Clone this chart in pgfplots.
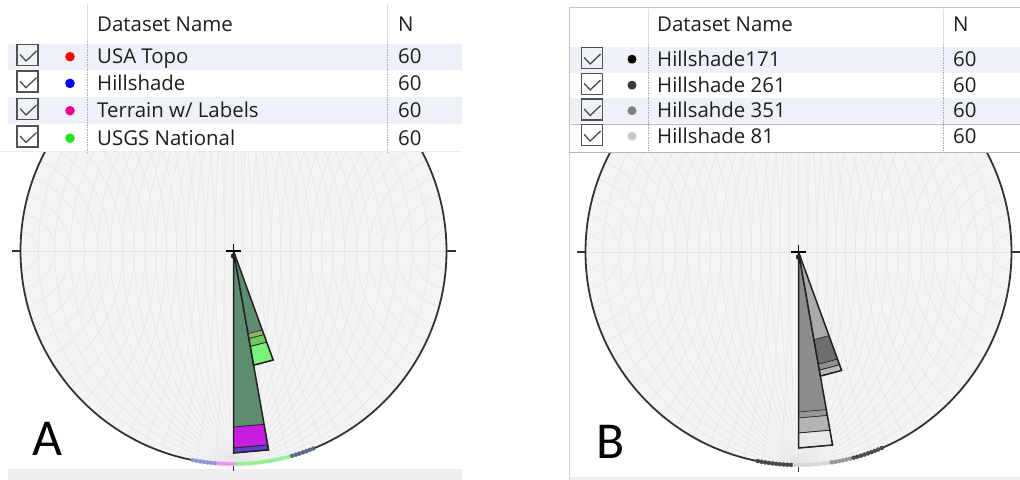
\documentclass[border=0pt]{standalone}
\usepackage{fontspec}
\setmainfont{Open Sans}
\newfontfamily\lblfont{Carlito}
\usepackage{pgfplots}
\pgfplotsset{compat=1.18}
\definecolor{rowshade}{RGB}{238,242,248}
\definecolor{netbg}{RGB}{244,244,244}
\definecolor{netline}{RGB}{229,229,229}
\definecolor{stripgray}{RGB}{238,238,238}
\definecolor{txt}{RGB}{30,30,30}
\definecolor{wline}{RGB}{35,35,35}
\definecolor{amain}{RGB}{93,140,110}
\definecolor{amag}{RGB}{200,30,224}
\definecolor{ablue}{RGB}{92,64,200}
\definecolor{aolive}{RGB}{140,178,110}
\definecolor{agreen2}{RGB}{110,200,90}
\definecolor{agreen1}{RGB}{124,240,124}
\definecolor{bmain}{RGB}{140,140,140}
\definecolor{bb1}{RGB}{150,150,150}
\definecolor{bb2}{RGB}{180,180,180}
\definecolor{bb3}{RGB}{233,233,233}
\definecolor{bsec}{RGB}{170,170,170}
\definecolor{bs1}{RGB}{110,110,110}
\definecolor{bs2}{RGB}{142,142,142}
\definecolor{bs3}{RGB}{185,185,185}
\definecolor{ugreen}{RGB}{30,230,30}
\definecolor{pbluegray}{RGB}{150,150,215}
\definecolor{pmag}{RGB}{235,150,240}
\definecolor{pgreen}{RGB}{150,240,150}
\definecolor{pslate}{RGB}{90,110,130}

\def\R{213}
\newcommand\net[2]{%
  \begin{scope}
    \clip (#1,#2) circle[radius=\R bp];
    \fill[netbg] (#1,#2) circle[radius=\R bp];
    \foreach \d in {5,10,...,85}{%
      \pgfmathsetmacro\cc{\R*tan(\d)}%
      \pgfmathsetmacro\rr{\R/cos(\d)}%
      \draw[netline, line width=0.5bp] ({#1-\cc},#2) circle[radius=\rr bp] ({#1+\cc},#2) circle[radius=\rr bp];
      \draw[netline, line width=0.5bp] ({#1+\rr},#2) circle[radius=\cc bp] ({#1-\rr},#2) circle[radius=\cc bp];
    }
    \draw[netline, line width=0.5bp] (#1,#2-\R) -- (#1,#2+\R) (#1-\R,#2) -- (#1+\R,#2);
  \end{scope}
  \draw[black!80, line width=1.8bp] (#1,#2) circle[radius=\R bp];
  \draw[black!80, line width=1.4bp] (#1-\R-9,#2) -- (#1-\R,#2) (#1+\R,#2) -- (#1+\R+9,#2) (#1,#2+\R) -- (#1,#2+\R+7);
}
\newcommand\chk[2]{%
  \draw[black!68, line width=1.4bp] (#1-10.5,#2-10.5) rectangle (#1+10.5,#2+10.5);
  \draw[black!70, line width=1.3bp] (#1-7.5,#2-0.5) -- (#1-1.5,#2+6) -- (#1+9,#2-4);
}
\tikzset{tt/.style={anchor=base west, inner sep=0pt, text=txt, font=\fontsize{20.5}{24}\selectfont}}
\pgfplotsset{pp/.style={data cs=polar, only marks, mark=*, mark size=2bp}}

\begin{document}
\begin{tikzpicture}[x=1bp,y=-1bp]
\fill[white] (0,0) rectangle (1020,480);
\fill[stripgray] (8,469) rectangle (462,480);
\fill[stripgray] (569,477) rectangle (1020,480);
\draw[gray!35, line width=1bp] (569,8) -- (569,480);
\net{233.5}{251}
\net{798.5}{252}
\node[font=\lblfont\fontsize{52}{52}\selectfont, anchor=base, inner sep=0pt] at (47,455) {A};
\node[font=\lblfont\fontsize{52}{52}\selectfont, anchor=base, inner sep=0pt] at (610.5,458) {B};

% ---------------- Panel A ----------------
\begin{axis}[at={(233.5bp,-251bp)}, anchor=center, x=1bp, y=1bp,
  xmin=-240, xmax=240, ymin=-240, ymax=240, hide axis, clip=false]
% perimeter data points
\addplot[pp, color=pbluegray] coordinates {(-101,213) (-100,213) (-99,213) (-98,213) (-97,213) (-96,213) (-95,213)};
\addplot[pp, color=pmag] coordinates {(-94,213) (-93,213) (-92,213) (-91,213) (-90,213)};
\addplot[pp, color=pgreen] coordinates {(-89,213) (-88,213) (-87,213) (-86,213) (-85,213) (-84,213) (-83,213) (-82,213) (-81,213) (-80,213) (-79,213) (-78,213) (-77,213) (-76,213) (-75,213)};
\addplot[pp, color=pslate] coordinates {(-74,213) (-73,213) (-72,213) (-71,213) (-70,213) (-69,213) (-68,213)};
% bin 170-180
\addplot[data cs=polar, fill=amain, draw=none] coordinates {(-90,0) (-90,176) (-80,176) (-80,0)};
\addplot[data cs=polar, fill=amag, draw=wline, line width=0.8bp] coordinates {(-90,176) (-90,197) (-80,197) (-80,176) (-90,176)};
\addplot[data cs=polar, fill=ablue, draw=wline, line width=0.8bp] coordinates {(-90,197) (-90,202) (-80,202) (-80,197) (-90,197)};
\addplot[data cs=polar, draw=wline, line width=1.5bp] coordinates {(-90,0) (-90,202) (-80,202) (-80,0)};
% bin 160-170
\addplot[data cs=polar, fill=amain, draw=none] coordinates {(-80,0) (-80,84) (-70,84) (-70,0)};
\addplot[data cs=polar, fill=aolive, draw=wline, line width=0.6bp] coordinates {(-80,84) (-80,89) (-70,89) (-70,84) (-80,84)};
\addplot[data cs=polar, fill=agreen2, draw=wline, line width=0.6bp] coordinates {(-80,89) (-80,97) (-70,97) (-70,89) (-80,89)};
\addplot[data cs=polar, fill=agreen1, draw=wline, line width=0.8bp] coordinates {(-80,97) (-80,116) (-70,116) (-70,97) (-80,97)};
\addplot[data cs=polar, draw=wline, line width=1.5bp] coordinates {(-80,0) (-80,116) (-70,116) (-70,0)};
% centre
\addplot[only marks, mark=+, mark size=7.5bp, mark options={line width=1.8bp, black}] coordinates {(0,0)};
\addplot[only marks, mark=*, mark size=2.5bp, mark options={black!85}] coordinates {(0,-5)};
\end{axis}

% ---------------- Panel B ----------------
\begin{axis}[at={(798.5bp,-252bp)}, anchor=center, x=1bp, y=1bp,
  xmin=-240, xmax=240, ymin=-240, ymax=240, hide axis, clip=false]
\addplot[pp, color=black!72] coordinates {(-101,213) (-100,213) (-99,213) (-98,213) (-97,213) (-96,213) (-95,213) (-94,213) (-93,213) (-92,213)};
\addplot[pp, color=black!15] coordinates {(-91,213) (-90,213) (-89,213) (-88,213) (-87,213) (-86,213) (-85,213) (-84,213) (-83,213) (-82,213)};
\addplot[pp, color=black!40] coordinates {(-81,213) (-80,213) (-79,213) (-78,213) (-77,213) (-76,213)};
\addplot[pp, color=black!70] coordinates {(-75,213) (-74,213) (-73,213) (-72,213) (-71,213) (-70,213) (-69,213) (-68,213) (-67,213)};
\addplot[data cs=polar, fill=bmain, draw=none] coordinates {(-90,0) (-90,160) (-80,160) (-80,0)};
\addplot[data cs=polar, fill=bb1, draw=wline, line width=0.6bp] coordinates {(-90,160) (-90,166) (-80,166) (-80,160) (-90,160)};
\addplot[data cs=polar, fill=bb2, draw=wline, line width=0.6bp] coordinates {(-90,166) (-90,181) (-80,181) (-80,166) (-90,166)};
\addplot[data cs=polar, fill=bb3, draw=wline, line width=0.8bp] coordinates {(-90,181) (-90,196) (-80,196) (-80,181) (-90,181)};
\addplot[data cs=polar, draw=wline, line width=1.5bp] coordinates {(-90,0) (-90,196) (-80,196) (-80,0)};
\addplot[data cs=polar, fill=bsec, draw=none] coordinates {(-80,0) (-80,89) (-70,89) (-70,0)};
\addplot[data cs=polar, fill=bs1, draw=wline, line width=0.6bp] coordinates {(-80,89) (-80,114) (-70,114) (-70,89) (-80,89)};
\addplot[data cs=polar, fill=bs2, draw=wline, line width=0.6bp] coordinates {(-80,114) (-80,120) (-70,120) (-70,114) (-80,114)};
\addplot[data cs=polar, fill=bs3, draw=wline, line width=0.8bp] coordinates {(-80,120) (-80,126) (-70,126) (-70,120) (-80,120)};
\addplot[data cs=polar, draw=wline, line width=1.5bp] coordinates {(-80,0) (-80,126) (-70,126) (-70,0)};
\addplot[only marks, mark=+, mark size=7.5bp, mark options={line width=1.8bp, black}] coordinates {(0,0)};
\addplot[only marks, mark=*, mark size=2.5bp, mark options={black!85}] coordinates {(0,-5)};
\end{axis}

% ---------------- Table A ----------------
\fill[white] (0,0) rectangle (462,152);
\fill[rowshade] (8,44) rectangle (462,70);
\fill[rowshade] (8,97) rectangle (462,124);
\draw[gray!15, line width=1bp] (0,152) -- (462,152);
\foreach \xx in {87,387}{
  \draw[gray!25, line width=0.8bp] (\xx,4) -- (\xx,42);
  \draw[gray!65, line width=1bp, dash pattern=on 1.2bp off 1.3bp] (\xx,42) -- (\xx,154);
}
\node[tt] at (97,31.7) {Dataset Name};
\node[tt] at (398,31.7) {N};
\foreach \yy/\cl/\nm in {64/red/{USA Topo}, 90.7/blue/{Hillshade}, 118/magenta/{Terrain w/ Labels}, 145.5/ugreen/{USGS National}}{
  \chk{27.5}{\yy-9}
  \fill[color=\cl] (70,\yy-7.3) circle[radius=4.8bp];
  \node[tt] at (97,\yy) {\nm};
  \node[tt] at (398,\yy) {60};
}

% ---------------- Table B ----------------
\fill[white] (569,8) rectangle (1020,152.5);
\fill[rowshade] (570,47) rectangle (1020,73);
\fill[rowshade] (570,98) rectangle (1020,123.5);
\draw[gray!45, line width=1bp] (569,8) -- (1020,8);
\draw[gray!50, line width=1bp] (569,8) -- (569,153);
\draw[gray!55, line width=1.2bp] (569,152.5) -- (1020,152.5);
\draw[gray!55, line width=1bp] (571,124.5) -- (1020,124.5);
\foreach \xx in {648,943}{
  \draw[gray!25, line width=0.8bp] (\xx,9) -- (\xx,45);
  \draw[gray!65, line width=1bp, dash pattern=on 1.2bp off 1.3bp] (\xx,45) -- (\xx,152);
}
\node[tt] at (657,31.7) {Dataset Name};
\node[tt] at (953,31.7) {N};
\foreach \yy/\cl/\nm in {66.5/black/{Hillshade171}, 92.5/black!78/{Hillshade 261}, 118/black!50/{Hillsahde 351}, 143.5/black!22/{Hillshade 81}}{
  \chk{591.7}{\yy-8.5}
  \fill[color=\cl] (632,\yy-7.3) circle[radius=4.5bp];
  \node[tt] at (657,\yy) {\nm};
  \node[tt] at (953,\yy) {60};
}
\pgfresetboundingbox
\path[use as bounding box] (0,0) rectangle (1020,480);
\end{tikzpicture}
\end{document}
